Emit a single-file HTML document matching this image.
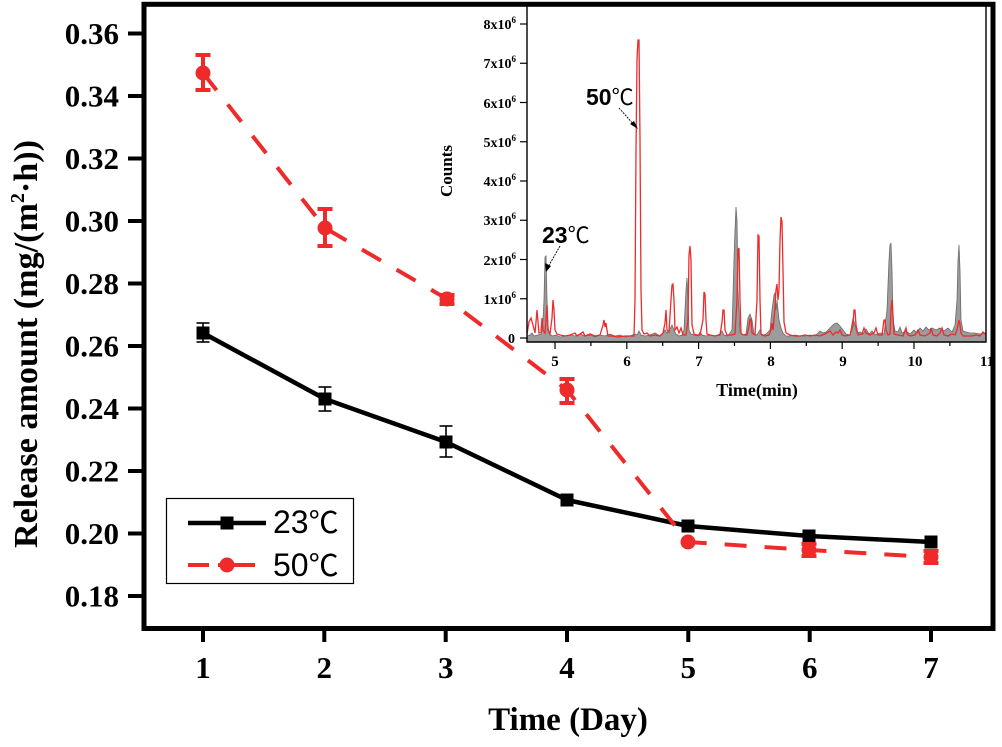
<!DOCTYPE html>
<html><head><meta charset="utf-8">
<style>
html,body{margin:0;padding:0;background:#fff;}
svg{display:block;}
.tk{font-family:"Liberation Serif",serif;font-weight:bold;}
</style></head>
<body>
<svg width="1002" height="747" viewBox="0 0 1002 747" xmlns="http://www.w3.org/2000/svg">
<rect width="1002" height="747" fill="#fff"/>

<!-- ===== INSET ===== -->
<g>
  <path fill="#9c9c9c" stroke="#6a6a6a" stroke-width="0.8" d="M527,342 L527,336 530,335 532,333 534,336 538,335 541,334 543,320 544,300 545,257 546,256 547,300 548,325 549,333 552,336 556,335 560,337 565,336 570,335 575,336 580,334 585,336 590,335 595,337 600,335 605,336 610,334 615,336 620,335 625,337 630,336 635,334 637,335 639,331 641,335 645,336 650,335 655,333 660,336 663,333 665,330 667,333 670,329 672,325 674,330 676,334 679,336 682,335 684,330 686,290 687,278 688,300 689,330 691,334 694,335 698,336 700,332 702,335 706,336 710,335 715,336 720,334 722,331 724,335 728,336 732,330 734,260 735,230 736,207 737,220 738,290 740,332 743,335 746,334 748,318 750,314 752,320 754,334 757,335 760,330 762,336 766,334 770,330 772,310 774,295 775,293 776,310 777,300 779,320 781,328 783,333 786,336 790,336 795,335 800,336 805,336 810,335 815,336 820,331 823,333 826,332 830,328 834,324 837,323 840,326 843,330 846,334 850,335 853,318 855,325 857,333 860,332 863,334 866,329 869,334 872,331 875,335 880,333 884,334 887,310 889,260 890,245 891,243 892,270 893,320 895,331 898,332 900,327 902,333 906,331 910,334 914,330 917,333 920,328 923,331 926,327 929,330 932,328 936,330 940,328 944,331 948,328 952,332 955,325 957,300 958,260 959,245 960,270 961,320 963,331 966,332 970,333 975,333 980,334 985,333 986,333 986,342 Z"/>
  <polyline fill="none" stroke="#ee2a2a" stroke-width="1.3" stroke-linejoin="miter" points="527,334 529,322 531,318 533,325 535,333 536,322 537,310 538,322 539,333 541,332 542,318 543,330 545,333 546,320 547,305 548,330 550,334 552,318 553,300 554,310 555,330 557,334 560,335 565,336 570,335 575,333 577,336 580,334 583,332 585,336 590,334 595,336 600,335 603,325 604,320 605,327 606,323 607,330 608,336 612,336 618,337 625,336 630,336 634,336 635,300 636,150 637,60 638,40 639,40 640,140 641,290 642,330 644,334 647,333 650,336 655,335 660,336 663,333 665,323 666,310 667,330 669,332 671,300 672,285 673,284 674,300 675,330 677,327 679,333 681,328 683,335 686,335 688,320 689,255 690,246 691,260 692,325 694,334 697,335 700,335 703,320 704,292 705,294 706,320 707,334 710,335 715,336 720,335 722,322 723,310 724,310 725,330 727,335 732,335 735,334 737,300 738,250 739,248 740,300 741,333 743,335 747,335 749,326 750,319 751,319 752,333 755,335 757,300 758,235 759,236 760,300 761,334 765,336 769,335 771,330 772,323 773,330 775,308 776,290 777,284 778,300 779,290 780,240 781,217 782,222 783,270 784,322 786,333 790,335 795,336 800,336 805,335 810,336 815,335 820,336 825,334 830,331 833,335 836,332 838,333 840,330 842,335 845,336 850,335 853,325 854,310 855,310 856,325 858,335 862,334 864,328 866,333 870,335 874,333 876,328 878,335 882,335 884,320 885,320 886,330 888,335 890,334 891,310 892,300 893,315 894,334 898,335 903,336 906,328 907,334 910,336 915,335 918,330 920,335 925,336 930,333 931,328 933,335 937,336 940,333 942,328 944,335 948,336 952,334 955,335 957,330 959,320 960,325 961,333 963,336 968,336 972,336 976,335 980,336 983,332 985,334"/>

  <line x1="527" y1="5" x2="527" y2="342.5" stroke="#000" stroke-width="1.4"/>
  <line x1="526.5" y1="342" x2="986.5" y2="342" stroke="#000" stroke-width="1.4"/>
  <line x1="986" y1="5" x2="986" y2="342.5" stroke="#000" stroke-width="1.4"/>
  <g stroke="#000" stroke-width="1.2">
    <line x1="520" y1="338" x2="527" y2="338"/>
    <line x1="520" y1="298.75" x2="527" y2="298.75"/>
    <line x1="520" y1="259.5" x2="527" y2="259.5"/>
    <line x1="520" y1="220.25" x2="527" y2="220.25"/>
    <line x1="520" y1="181" x2="527" y2="181"/>
    <line x1="520" y1="141.75" x2="527" y2="141.75"/>
    <line x1="520" y1="102.5" x2="527" y2="102.5"/>
    <line x1="520" y1="63.25" x2="527" y2="63.25"/>
    <line x1="520" y1="24" x2="527" y2="24"/>
  </g>
  <g stroke="#000" stroke-width="1.2">
    <line x1="555" y1="342" x2="555" y2="349"/>
    <line x1="626.8" y1="342" x2="626.8" y2="349"/>
    <line x1="698.6" y1="342" x2="698.6" y2="349"/>
    <line x1="770.4" y1="342" x2="770.4" y2="349"/>
    <line x1="842.2" y1="342" x2="842.2" y2="349"/>
    <line x1="914" y1="342" x2="914" y2="349"/>
    <line x1="590.9" y1="342" x2="590.9" y2="346"/>
    <line x1="662.7" y1="342" x2="662.7" y2="346"/>
    <line x1="734.5" y1="342" x2="734.5" y2="346"/>
    <line x1="806.3" y1="342" x2="806.3" y2="346"/>
    <line x1="878.1" y1="342" x2="878.1" y2="346"/>
    <line x1="949.9" y1="342" x2="949.9" y2="346"/>
  </g>
  <g class="tk" font-size="14" text-anchor="end" fill="#000">
    <text x="515" y="343">0</text>
    <text x="516" y="304">1x10<tspan dy="-6" font-size="9">6</tspan></text>
    <text x="516" y="265">2x10<tspan dy="-6" font-size="9">6</tspan></text>
    <text x="516" y="225">3x10<tspan dy="-6" font-size="9">6</tspan></text>
    <text x="516" y="186">4x10<tspan dy="-6" font-size="9">6</tspan></text>
    <text x="516" y="147">5x10<tspan dy="-6" font-size="9">6</tspan></text>
    <text x="516" y="108">6x10<tspan dy="-6" font-size="9">6</tspan></text>
    <text x="516" y="68">7x10<tspan dy="-6" font-size="9">6</tspan></text>
    <text x="516" y="29">8x10<tspan dy="-6" font-size="9">6</tspan></text>
  </g>
  <g class="tk" font-size="15" text-anchor="middle" fill="#000">
    <text x="555" y="366">5</text>
    <text x="627" y="366">6</text>
    <text x="699" y="366">7</text>
    <text x="771" y="366">8</text>
    <text x="843" y="366">9</text>
    <text x="915" y="366">10</text>
    <text x="987" y="366">11</text>
  </g>
  <text class="tk" font-size="18" x="757" y="396" text-anchor="middle">Time(min)</text>
  <text class="tk" font-size="17" text-anchor="middle" transform="translate(452,171) rotate(-90)">Counts</text>

  <text x="586" y="105" font-family="Liberation Sans, sans-serif" font-weight="bold" font-size="23">50<tspan font-family="Liberation Sans, Noto Sans CJK SC, sans-serif" font-weight="normal" font-size="22">℃</tspan></text>
  <line x1="619" y1="108" x2="635" y2="126" stroke="#000" stroke-width="0.9" stroke-dasharray="2 1"/>
  <polygon points="638,129 630,124 634,121" fill="#000"/>
  <text x="542" y="243" font-family="Liberation Sans, sans-serif" font-weight="bold" font-size="23">23<tspan font-family="Liberation Sans, Noto Sans CJK SC, sans-serif" font-weight="normal" font-size="22">℃</tspan></text>
  <line x1="560" y1="246" x2="548" y2="267" stroke="#000" stroke-width="0.9" stroke-dasharray="2 1"/>
  <polygon points="546,272 545,263 551,266" fill="#000"/>
</g>

<!-- ===== MAIN FRAME ===== -->
<rect x="144" y="4.3" width="849" height="624.2" fill="none" stroke="#000" stroke-width="5"/>

<g stroke="#000" stroke-width="4">
  <line x1="128" y1="33.5" x2="144" y2="33.5"/>
  <line x1="128" y1="96" x2="144" y2="96"/>
  <line x1="128" y1="158.5" x2="144" y2="158.5"/>
  <line x1="128" y1="221" x2="144" y2="221"/>
  <line x1="128" y1="283.5" x2="144" y2="283.5"/>
  <line x1="128" y1="346" x2="144" y2="346"/>
  <line x1="128" y1="408.5" x2="144" y2="408.5"/>
  <line x1="128" y1="471" x2="144" y2="471"/>
  <line x1="128" y1="533.5" x2="144" y2="533.5"/>
  <line x1="128" y1="596" x2="144" y2="596"/>
</g>
<g class="tk" font-size="31" text-anchor="end" fill="#000">
  <text x="119" y="44">0.36</text>
  <text x="119" y="106.5">0.34</text>
  <text x="119" y="169">0.32</text>
  <text x="119" y="231.5">0.30</text>
  <text x="119" y="294">0.28</text>
  <text x="119" y="356.5">0.26</text>
  <text x="119" y="419">0.24</text>
  <text x="119" y="481.5">0.22</text>
  <text x="119" y="544">0.20</text>
  <text x="119" y="606.5">0.18</text>
</g>
<g stroke="#000" stroke-width="4">
  <line x1="203" y1="628" x2="203" y2="642"/>
  <line x1="324.3" y1="628" x2="324.3" y2="642"/>
  <line x1="445.7" y1="628" x2="445.7" y2="642"/>
  <line x1="567" y1="628" x2="567" y2="642"/>
  <line x1="688.3" y1="628" x2="688.3" y2="642"/>
  <line x1="809.7" y1="628" x2="809.7" y2="642"/>
  <line x1="931" y1="628" x2="931" y2="642"/>
</g>
<g class="tk" font-size="31" text-anchor="middle" fill="#000">
  <text x="203" y="678">1</text>
  <text x="324.3" y="678">2</text>
  <text x="445.7" y="678">3</text>
  <text x="567" y="678">4</text>
  <text x="688.3" y="678">5</text>
  <text x="809.7" y="678">6</text>
  <text x="931" y="678">7</text>
</g>
<text class="tk" font-size="33" x="568" y="730" text-anchor="middle">Time (Day)</text>
<text class="tk" font-size="34" text-anchor="middle" transform="translate(37,344) rotate(-90)" textLength="408" lengthAdjust="spacingAndGlyphs">Release amount (mg/(m<tspan font-size="20" dy="-13">2</tspan><tspan dy="13">·h))</tspan></text>

<!-- ===== 23C series ===== -->
<polyline fill="none" stroke="#000" stroke-width="4.5" stroke-linejoin="round" points="203,333 325,399 446,442 567,500 688,526 809,536 931,542"/>
<g stroke="#000" stroke-width="1.6">
  <line x1="203" y1="323" x2="203" y2="342"/><line x1="196.5" y1="323" x2="209.5" y2="323"/><line x1="196.5" y1="342" x2="209.5" y2="342"/>
  <line x1="325" y1="387" x2="325" y2="411"/><line x1="318.5" y1="387" x2="331.5" y2="387"/><line x1="318.5" y1="411" x2="331.5" y2="411"/>
  <line x1="446" y1="426" x2="446" y2="457"/><line x1="439.5" y1="426" x2="452.5" y2="426"/><line x1="439.5" y1="457" x2="452.5" y2="457"/>
</g>
<g fill="#000">
  <rect x="196.5" y="326.5" width="13" height="13"/>
  <rect x="318.5" y="392.5" width="13" height="13"/>
  <rect x="439.5" y="435.5" width="13" height="13"/>
  <rect x="560.5" y="493.5" width="13" height="13"/>
  <rect x="681.5" y="519.5" width="13" height="13"/>
  <rect x="802.5" y="529.5" width="13" height="13"/>
  <rect x="924.5" y="535.5" width="13" height="13"/>
</g>

<!-- ===== 50C series ===== -->
<polyline fill="none" stroke="#ee2a2a" stroke-width="4" stroke-dasharray="22 18" points="203,73 325,228 447,299 567,390 688,542 809,550 931,557"/>
<g stroke="#ee2a2a" stroke-width="4">
  <line x1="203" y1="53" x2="203" y2="92"/><line x1="195.5" y1="55" x2="210.5" y2="55"/><line x1="195.5" y1="90" x2="210.5" y2="90"/>
  <line x1="325" y1="207" x2="325" y2="248"/><line x1="317.5" y1="209" x2="332.5" y2="209"/><line x1="317.5" y1="246" x2="332.5" y2="246"/>
  <line x1="447" y1="293" x2="447" y2="306"/><line x1="439.5" y1="295" x2="454.5" y2="295"/><line x1="439.5" y1="304" x2="454.5" y2="304"/>
  <line x1="567" y1="377" x2="567" y2="405"/><line x1="559.5" y1="379" x2="574.5" y2="379"/><line x1="559.5" y1="403" x2="574.5" y2="403"/>
  <line x1="809" y1="542" x2="809" y2="558"/><line x1="801.5" y1="544" x2="816.5" y2="544"/><line x1="801.5" y1="556" x2="816.5" y2="556"/>
  <line x1="931" y1="549" x2="931" y2="565"/><line x1="923.5" y1="551" x2="938.5" y2="551"/><line x1="923.5" y1="563" x2="938.5" y2="563"/>
</g>
<g fill="#ee2a2a">
  <circle cx="203" cy="73" r="7.5"/>
  <circle cx="325" cy="228" r="7.5"/>
  <circle cx="447" cy="299" r="7.5"/>
  <circle cx="567" cy="390" r="7.5"/>
  <circle cx="688" cy="542" r="7.5"/>
  <circle cx="809" cy="550" r="7.5"/>
  <circle cx="931" cy="557" r="7.5"/>
</g>

<!-- ===== LEGEND ===== -->
<rect x="166.5" y="498.5" width="187" height="85" fill="#fff" stroke="#000" stroke-width="1.2"/>
<line x1="188" y1="523" x2="266" y2="523" stroke="#000" stroke-width="4.5"/>
<rect x="220.5" y="516.5" width="13" height="13" fill="#000"/>
<text x="273" y="533" font-family="Liberation Sans, sans-serif" font-size="32">23<tspan font-family="Liberation Sans, Noto Sans CJK SC, sans-serif" font-size="30">℃</tspan></text>
<line x1="188" y1="565" x2="209" y2="565" stroke="#ee2a2a" stroke-width="4"/>
<line x1="218" y1="565" x2="255" y2="565" stroke="#ee2a2a" stroke-width="4"/>
<circle cx="227" cy="565" r="7.5" fill="#ee2a2a"/>
<text x="273" y="576" font-family="Liberation Sans, sans-serif" font-size="32">50<tspan font-family="Liberation Sans, Noto Sans CJK SC, sans-serif" font-size="30">℃</tspan></text>
</svg>
</body></html>
